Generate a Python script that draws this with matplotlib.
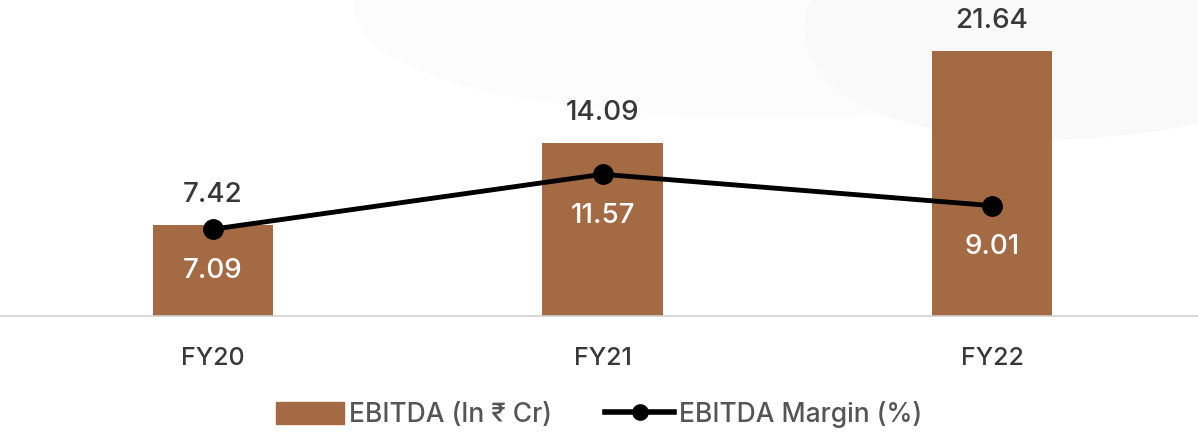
import matplotlib.pyplot as plt
from matplotlib.patches import Ellipse
from matplotlib.lines import Line2D
from matplotlib.patches import Patch

years = ["FY20", "FY21", "FY22"]
ebitda = [7.42, 14.09, 21.64]
margin = [7.09, 11.57, 9.01]

bar_color = "#A46A44"
text_color = "#383838"

plt.rcParams['font.family'] = ['Inter', 'DejaVu Sans']

fig = plt.figure(figsize=(11.98, 4.38), dpi=100)

# faint background swoosh at the top right
bg = fig.add_axes([0, 0, 1, 1], zorder=0)
bg.set_xlim(0, 1198)
bg.set_ylim(438, 0)
bg.axis("off")
bg.add_patch(Ellipse((1000, -60), 1300, 330, angle=-6, color="#fcfcfc", lw=0))
bg.add_patch(Ellipse((1150, -20), 700, 300, angle=-10, color="#f9f9f9", lw=0))

ax = fig.add_axes([0, 1 - 316 / 438, 1, 316 / 438], zorder=1)
ax.patch.set_alpha(0)
x = range(len(years))
ax.bar(x, ebitda, width=0.31, color=bar_color, zorder=2)
ax.plot(x, margin, color="black", lw=3.5, marker="o", ms=14, zorder=3)

for i, v in enumerate(ebitda):
    ax.text(i, v + 1.4, f"{v:.2f}", ha="center", va="bottom", fontsize=20,
            fontweight="medium", color=text_color)
for i, v in enumerate(margin):
    ax.text(i, v - 3.4, f"{v:.2f}", ha="center", va="center", fontsize=20,
            fontweight="medium", color="white", zorder=4)

ax.set_xlim(-0.547, 2.529)
ax.set_ylim(0, 25.8)
ax.set_yticks([])
ax.set_xticks(list(x))
ax.set_xticklabels(years, fontsize=18, fontweight="medium", color=text_color)
ax.tick_params(axis="x", length=0, pad=22)
for s in ["top", "right", "left"]:
    ax.spines[s].set_visible(False)
ax.spines["bottom"].set_color("#d0d0d0")
ax.spines["bottom"].set_linewidth(1.2)

handles = [Patch(color=bar_color, label="EBITDA (In ₹ Cr)"),
           Line2D([0], [0], color="black", lw=4, marker="o", ms=11, label="EBITDA Margin (%)")]
fig.legend(handles=handles, loc="center", bbox_to_anchor=(0.5, 1 - 415 / 438), ncol=2,
           frameon=False, prop={"size": 19, "weight": "medium"}, handlelength=2.6,
           handleheight=0.9, handletextpad=0.2, columnspacing=2.0, labelcolor="#555555")

fig.savefig("out.png", dpi=100)
